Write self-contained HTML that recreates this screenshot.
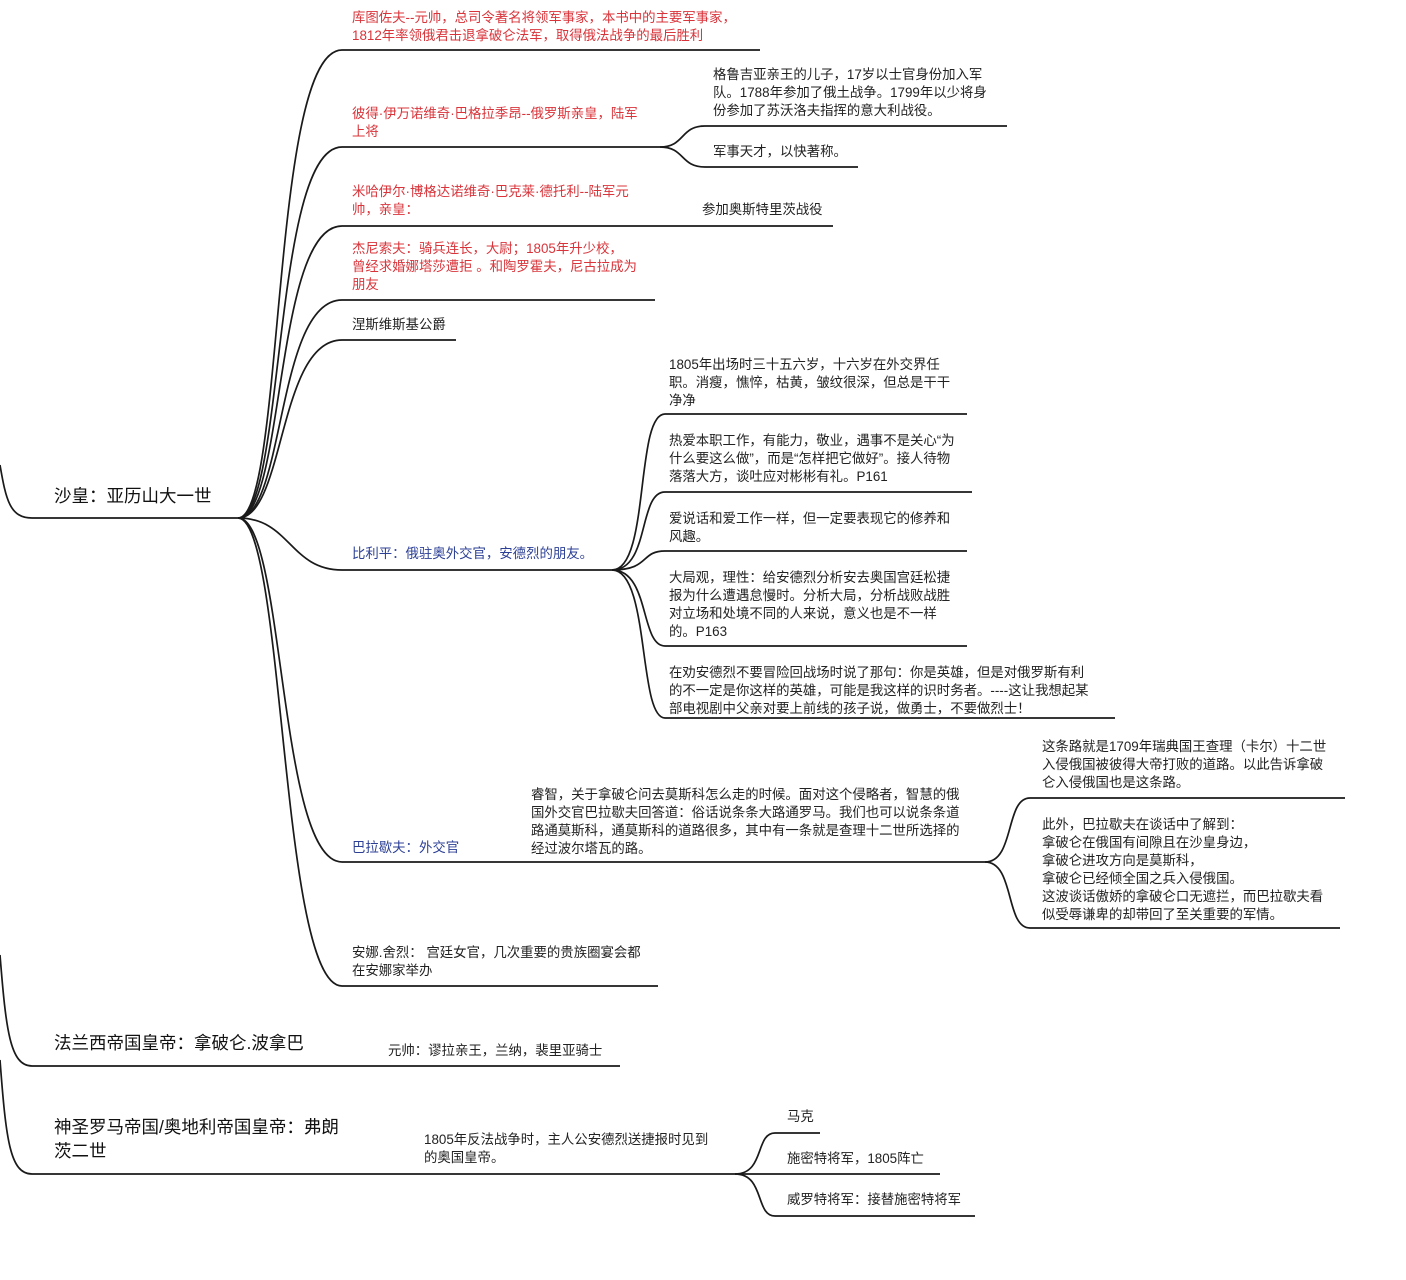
<!DOCTYPE html>
<html><head><meta charset="utf-8"><style>
html,body{margin:0;padding:0;background:#fff;}
body{width:1406px;height:1280px;position:relative;overflow:hidden;font-family:"Liberation Sans","Noto Sans CJK SC",sans-serif;}
.t{position:absolute;font-size:13.4px;line-height:18px;color:#222;white-space:nowrap;}
.r{color:#d8343a;}
.b{color:#2b3f95;}
.big{font-size:17.5px;line-height:24px;color:#111;}
svg{position:absolute;left:0;top:0;}
</style></head><body>
<svg width="1406" height="1280" fill="none" stroke="#1a1a1a" stroke-width="1.7">
<path d="M0 465 C6 500 10 518 32 518 H238"/>
<path d="M0 955 C6 1030 10 1066 32 1066 H620"/>
<path d="M0 1060 C6 1140 10 1174 32 1174 H735"/>
<path d="M238 518 C285 518 270 50 342 50 H760"/>
<path d="M238 518 C285 518 272 147 342 147 H660"/>
<path d="M238 518 C285 518 274 226 342 226 H833"/>
<path d="M238 518 C285 518 276 300 342 300 H655"/>
<path d="M238 518 C285 518 278 340 342 340 H456"/>
<path d="M238 518 C290 518 290 570 342 570 H612"/>
<path d="M238 518 C285 518 278 862 342 862 H985"/>
<path d="M238 518 C285 518 280 986 342 986 H658"/>
<path d="M660 147 C685 147 680 126 705 126 H1007"/>
<path d="M660 147 C685 147 680 167 705 167 H858"/>
<path d="M612 570 C650 570 635 414 665 414 H967"/>
<path d="M612 570 C650 570 638 492 665 492 H972"/>
<path d="M612 570 C650 570 640 551 665 551 H967"/>
<path d="M612 570 C650 570 640 646 665 646 H967"/>
<path d="M612 570 C650 570 638 718 665 718 H1115"/>
<path d="M985 862 C1015 862 1005 798 1030 798 H1345"/>
<path d="M985 862 C1015 862 1005 928 1030 928 H1340"/>
<path d="M735 1174 C765 1174 755 1133 775 1133 H820"/>
<path d="M735 1174 H940"/>
<path d="M735 1174 C765 1174 755 1216 775 1216 H975"/>
</svg>

<div class="t r" style="left:352px;top:9px">库图佐夫--元帅，总司令著名将领军事家，本书中的主要军事家，<br>1812年率领俄君击退拿破仑法军，取得俄法战争的最后胜利</div>
<div class="t r" style="left:352px;top:105px">彼得·伊万诺维奇·巴格拉季昂--俄罗斯亲皇，陆军<br>上将</div>
<div class="t" style="left:713px;top:66px">格鲁吉亚亲王的儿子，17岁以士官身份加入军<br>队。1788年参加了俄土战争。1799年以少将身<br>份参加了苏沃洛夫指挥的意大利战役。</div>
<div class="t" style="left:713px;top:143px">军事天才，以快著称。</div>
<div class="t r" style="left:352px;top:183px">米哈伊尔·博格达诺维奇·巴克莱·德托利--陆军元<br>帅，亲皇：</div>
<div class="t" style="left:702px;top:201px">参加奥斯特里茨战役</div>
<div class="t r" style="left:352px;top:240px">杰尼索夫：骑兵连长，大尉；1805年升少校，<br>曾经求婚娜塔莎遭拒 。和陶罗霍夫，尼古拉成为<br>朋友</div>
<div class="t" style="left:352px;top:316px">涅斯维斯基公爵</div>
<div class="t big" style="left:54px;top:484px">沙皇：亚历山大一世</div>
<div class="t" style="left:669px;top:356px">1805年出场时三十五六岁，十六岁在外交界任<br>职。消瘦，憔悴，枯黄，皱纹很深，但总是干干<br>净净</div>
<div class="t" style="left:669px;top:432px">热爱本职工作，有能力，敬业，遇事不是关心“为<br>什么要这么做”，而是“怎样把它做好”。接人待物<br>落落大方，谈吐应对彬彬有礼。P161</div>
<div class="t" style="left:669px;top:510px">爱说话和爱工作一样，但一定要表现它的修养和<br>风趣。</div>
<div class="t b" style="left:352px;top:545px">比利平：俄驻奥外交官，安德烈的朋友。</div>
<div class="t" style="left:669px;top:569px">大局观，理性：给安德烈分析安去奥国宫廷松捷<br>报为什么遭遇怠慢时。分析大局，分析战败战胜<br>对立场和处境不同的人来说，意义也是不一样<br>的。P163</div>
<div class="t" style="left:669px;top:664px">在劝安德烈不要冒险回战场时说了那句：你是英雄，但是对俄罗斯有利<br>的不一定是你这样的英雄，可能是我这样的识时务者。----这让我想起某<br>部电视剧中父亲对要上前线的孩子说，做勇士，不要做烈士！</div>
<div class="t" style="left:1042px;top:738px">这条路就是1709年瑞典国王查理（卡尔）十二世<br>入侵俄国被彼得大帝打败的道路。以此告诉拿破<br>仑入侵俄国也是这条路。</div>
<div class="t" style="left:531px;top:786px">睿智，关于拿破仑问去莫斯科怎么走的时候。面对这个侵略者，智慧的俄<br>国外交官巴拉歇夫回答道：俗话说条条大路通罗马。我们也可以说条条道<br>路通莫斯科，通莫斯科的道路很多，其中有一条就是查理十二世所选择的<br>经过波尔塔瓦的路。</div>
<div class="t b" style="left:352px;top:839px">巴拉歇夫：外交官</div>
<div class="t" style="left:1042px;top:816px">此外，巴拉歇夫在谈话中了解到：<br>拿破仑在俄国有间隙且在沙皇身边，<br>拿破仑进攻方向是莫斯科，<br>拿破仑已经倾全国之兵入侵俄国。<br>这波谈话傲娇的拿破仑口无遮拦，而巴拉歇夫看<br>似受辱谦卑的却带回了至关重要的军情。</div>
<div class="t" style="left:352px;top:944px">安娜.舍烈： 宫廷女官，几次重要的贵族圈宴会都<br>在安娜家举办</div>
<div class="t big" style="left:54px;top:1031px">法兰西帝国皇帝：拿破仑.波拿巴</div>
<div class="t" style="left:388px;top:1042px">元帅：谬拉亲王，兰纳，裴里亚骑士</div>
<div class="t big" style="left:54px;top:1115px">神圣罗马帝国/奥地利帝国皇帝：弗朗<br>茨二世</div>
<div class="t" style="left:424px;top:1131px">1805年反法战争时，主人公安德烈送捷报时见到<br>的奥国皇帝。</div>
<div class="t" style="left:787px;top:1108px">马克</div>
<div class="t" style="left:787px;top:1150px">施密特将军，1805阵亡</div>
<div class="t" style="left:787px;top:1191px">威罗特将军：接替施密特将军</div>
</body></html>
